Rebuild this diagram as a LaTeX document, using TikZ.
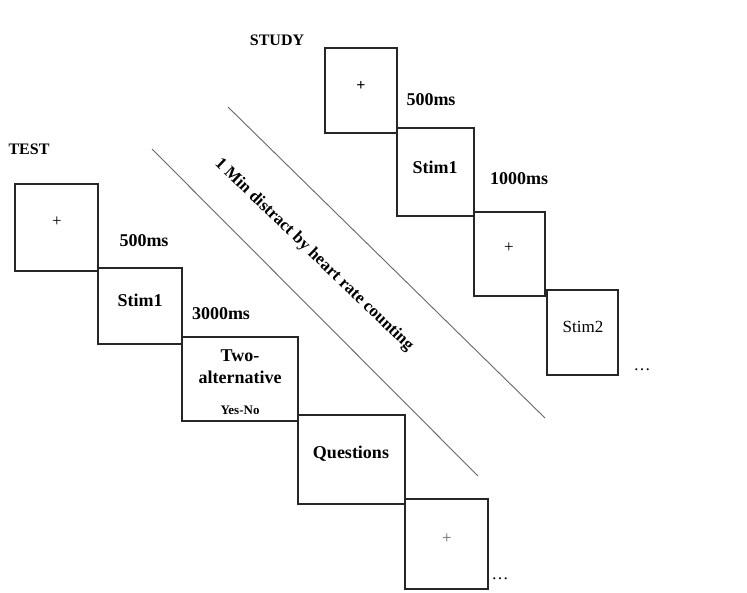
\documentclass[tikz,border=0pt]{standalone}
\usepackage{fontspec}
\setmainfont{Liberation Serif}
\usetikzlibrary{positioning,calc}
\tikzset{
  frame/.style={draw=black!85,line width=1.5pt,anchor=north west,inner sep=0pt,outer sep=0pt},
  boldtxt/.style={font=\bfseries\fontsize{18}{22}\selectfont,inner sep=0pt},
  headtxt/.style={font=\bfseries\fontsize{16}{18}\selectfont,inner sep=0pt},
  thintxt/.style={font=\fontsize{17}{19}\selectfont,inner sep=0pt},
  divider/.style={draw=black!60,line width=0.9pt}
}
\begin{document}
\begin{tikzpicture}[x=1pt,y=-1pt]
  \useasboundingbox (0,0) rectangle (747,592);
  % study sequence
  \node[headtxt] (study) at (277,40) {STUDY};
  \node[frame,minimum width=72pt,minimum height=85pt] (s1) at (325,48) {};
  \node[frame,minimum width=77pt,minimum height=88pt] (s2) at ($(s1.south east)+(0,-5)$) {};
  \node[frame,minimum width=71pt,minimum height=84pt] (s3) at ($(s2.south east)+(0,-4)$) {};
  \node[frame,minimum width=71pt,minimum height=85pt] (s4) at ($(s3.south east)+(2,-6)$) {};
  \node[boldtxt,font=\bfseries\fontsize{16}{18}\selectfont] (s1txt) at (361,86) {+};
  \node[boldtxt] (s2txt) at (435,167) {Stim1};
  \node[thintxt] (s3txt) at (509,248) {+};
  \node[thintxt] (s4txt) at (583,327) {Stim2};
  \node[boldtxt] (s1time) at (431,100) {500ms};
  \node[boldtxt] (s2time) at (519,179) {1000ms};
  \node[thintxt] (sdots) at (642,370) {\dots};
  % test sequence
  \node[headtxt] (test) at (29,149) {TEST};
  \node[frame,minimum width=83pt,minimum height=87pt] (t1) at (15,184) {};
  \node[frame,minimum width=84pt,minimum height=76pt] (t2) at ($(t1.south east)+(0,-3)$) {};
  \node[frame,minimum width=116pt,minimum height=84pt] (t3) at ($(t2.south east)+(0,-7)$) {};
  \node[frame,minimum width=107pt,minimum height=89pt] (t4) at ($(t3.south east)+(0,-6)$) {};
  \node[frame,minimum width=83pt,minimum height=90pt] (t5) at ($(t4.south east)+(0,-5)$) {};
  \node[thintxt] (t1txt) at (57,222) {+};
  \node[boldtxt] (t2txt) at (140,300) {Stim1};
  \node[boldtxt,align=center] (t3txt) at (240,367) {Two-\\alternative};
  \node[boldtxt,font=\bfseries\fontsize{13}{15}\selectfont] (t3sub) at (240,410) {Yes-No};
  \node[boldtxt] (t4txt) at (351,454) {Questions};
  \node[thintxt,text=black!60] (t5txt) at (447,539) {+};
  \node[boldtxt] (t1time) at (144,241) {500ms};
  \node[boldtxt] (t2time) at (221,314) {3000ms};
  \node[thintxt] (tdots) at (500,579) {\dots};
  % distractor band
  \coordinate (lowA) at (152,149);
  \coordinate (lowB) at (478,476);
  \coordinate (upA) at (228,107);
  \coordinate (upB) at (545,418);
  \draw[divider] (lowA) -- (lowB);
  \draw[divider] (upA) -- (upB);
  \node[boldtxt,font=\bfseries\fontsize{17}{19}\selectfont,rotate=-44] (distract) at (314,255)
    {1 Min distract by heart rate counting};
\end{tikzpicture}
\end{document}
